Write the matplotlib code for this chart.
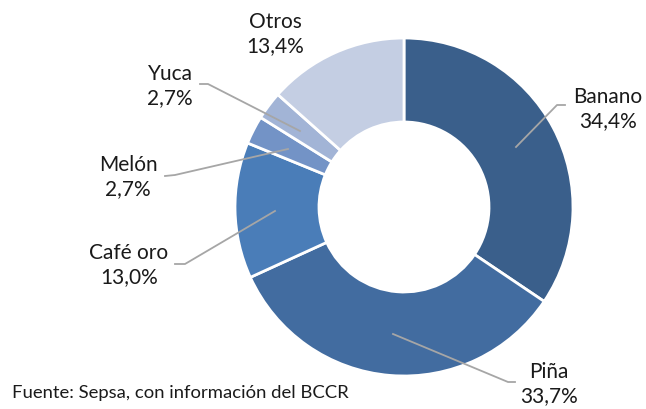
#!/usr/bin/env python3
"""Donut: exportaciones agrícolas por producto"""
import matplotlib
matplotlib.use("Agg")
import matplotlib.pyplot as plt

productos = ["Banano", "Piña", "Café oro", "Melón", "Yuca", "Otros"]
valores = [34.4, 33.7, 13.0, 2.7, 2.7, 13.4]
colores = ["#3A5F8B", "#426CA0", "#4A7DB8", "#7393C6", "#A2B4D6", "#C4CEE3"]
fuente = "Fuente: Sepsa, con información del BCCR"

# posiciones de etiquetas (px, origen arriba-izquierda) y líneas guía
etiquetas = {
    "Banano": ((608, 109), [(565, 106), (557, 106), (516, 148)]),
    "Piña": ((549, 384), [(393, 335), (508, 383), (515, 383)]),
    "Café oro": ((129, 265), [(175, 265), (185, 265), (275, 212)]),
    "Melón": ((128, 177), [(165, 177), (175, 176), (288, 150)]),
    "Yuca": ((170, 86), [(200, 85), (208, 85), (300, 132)]),
    "Otros": ((275, 34), None),
}

W, H = 646, 410
plt.rcParams["font.family"] = ["Lato", "DejaVu Sans"]

fig = plt.figure(figsize=(W / 100, H / 100), dpi=100)
ax = fig.add_axes([0, 0, 1, 1])

cx, cy, r = 404, H - 208, 169
ax.pie(valores, colors=colores, startangle=90, counterclock=False,
       center=(cx, cy), radius=r,
       wedgeprops=dict(width=84, edgecolor="white", linewidth=2))
ax.set_xlim(0, W)
ax.set_ylim(0, H)
ax.set_aspect("equal")
ax.axis("off")

for nombre, valor in zip(productos, valores):
    (tx, ty), linea = etiquetas[nombre]
    txt = f"{nombre}\n{valor:.1f}%".replace(".", ",")
    ax.text(tx, H - ty, txt, ha="center", va="center", fontsize=15,
            color="#1a1a1a", linespacing=1.3)
    if linea:
        xs = [p[0] for p in linea]
        ys = [H - p[1] for p in linea]
        ax.plot(xs, ys, color="#A6A6A6", lw=1.3)

ax.text(12, H - 393, fuente, ha="left", va="center", fontsize=13.3,
        color="#1a1a1a")

fig.savefig("out.png", dpi=100)
